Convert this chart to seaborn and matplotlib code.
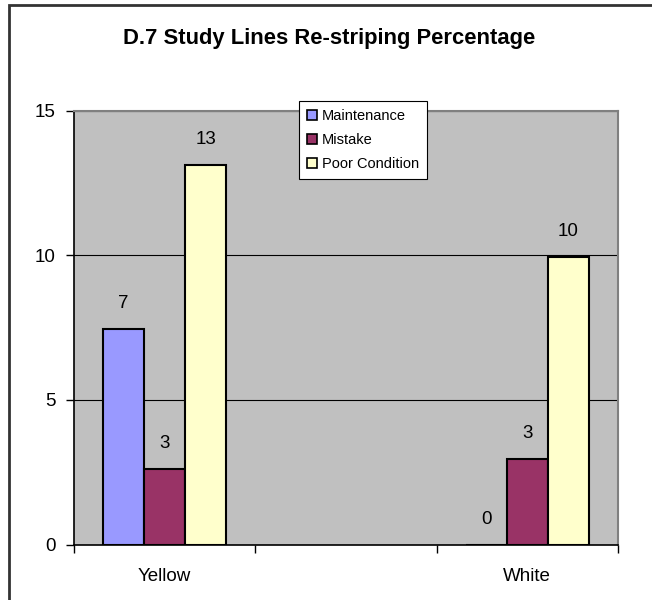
import pandas as pd
import matplotlib.pyplot as plt
import matplotlib.patches as patches
import seaborn as sns

# ── data ─────────────────────────────────────────────────────────
line_colors = ['Yellow', 'White']
slots = ['Yellow', ' ', 'White']          # empty middle category in the original
reasons = ['Maintenance', 'Mistake', 'Poor Condition']
maintenance = [7.45, 0.0]
mistake = [2.62, 2.96]
poor_condition = [13.12, 9.95]
palette = ['#9999FF', '#993366', '#FFFFCC']

df = pd.DataFrame({
    'line': line_colors * 3,
    'reason': [r for r in reasons for _ in line_colors],
    'pct': maintenance + mistake + poor_condition,
})

sns.set_style('white')
plt.rcParams['font.family'] = ['Liberation Sans', 'DejaVu Sans']
plt.rcParams['text.color'] = 'black'
plt.rcParams['xtick.color'] = 'black'
plt.rcParams['ytick.color'] = 'black'

fig = plt.figure(figsize=(6.52, 6.0), dpi=100)
ax = fig.add_axes([74 / 652, 1 - 544.5 / 600, 544 / 652, 433.8 / 600])
ax.set_facecolor('#C0C0C0')

sns.barplot(data=df, x='line', y='pct', hue='reason', order=slots,
            hue_order=reasons, palette=palette, width=0.68, gap=0,
            edgecolor='black', linewidth=1.5, saturation=1, ax=ax,
            errorbar=None, zorder=3)

for cont in ax.containers:
    ax.bar_label(cont, labels=[f'{b.get_height():.0f}' for b in cont],
                 padding=12, fontsize=13.5, color='black')

# axes look
ax.set_xlim(-0.5, 2.5)
ax.set_ylim(0, 15)
ax.set_yticks([0, 5, 10, 15])
ax.set_yticklabels(['0', '5', '10', '15'], fontsize=13.5)
ax.yaxis.grid(True, color='black', linewidth=0.8, zorder=1)
ax.set_axisbelow(True)
ax.set_xticks([-0.5, 0.5, 1.5, 2.5])
ax.set_xticklabels([])
ax.set_xticks([0, 1, 2], minor=True)
ax.set_xticklabels(['Yellow', '', 'White'], minor=True, fontsize=13.5)
ax.tick_params(axis='x', which='major', direction='out', length=6, width=1, color='black', bottom=True)
ax.tick_params(axis='x', which='minor', length=0, pad=17)
ax.tick_params(axis='y', direction='out', length=6, width=1, color='black', left=True, pad=7)
ax.set_xlabel('')
ax.set_ylabel('')
for side in ['left', 'bottom']:
    ax.spines[side].set_color('black')
    ax.spines[side].set_linewidth(1.2)
for side in ['top', 'right']:
    ax.spines[side].set_color('#808080')
    ax.spines[side].set_linewidth(1.5)

# legend box overlapping the top of the plot area
ax.legend_.remove()
leg = fig.legend(*ax.get_legend_handles_labels(), loc='upper left',
                 bbox_to_anchor=(299 / 652, 1 - 101 / 600), bbox_transform=fig.transFigure,
                 fontsize=10.5, frameon=True, fancybox=False, framealpha=1,
                 edgecolor='black', handlelength=0.7, handleheight=0.7,
                 handletextpad=0.3, labelspacing=0.7, borderpad=0.55, borderaxespad=0)
leg.get_frame().set_linewidth(0.8)
for h in leg.legend_handles:
    h.set_edgecolor('black')
    h.set_linewidth(1.2)

fig.text(329 / 652, 1 - 44 / 600, 'D.7 Study Lines Re-striping Percentage',
         ha='center', va='baseline', fontsize=15.8, fontweight='bold')

# outer chart border (cropped at right and bottom in the original)
fig.patches.append(patches.Rectangle((9 / 652, -0.1), 1.2, 1 - 5 / 600 + 0.1,
                                     transform=fig.transFigure, fill=False,
                                     edgecolor='#333333', linewidth=2))

fig.savefig('out.png', dpi=100)
